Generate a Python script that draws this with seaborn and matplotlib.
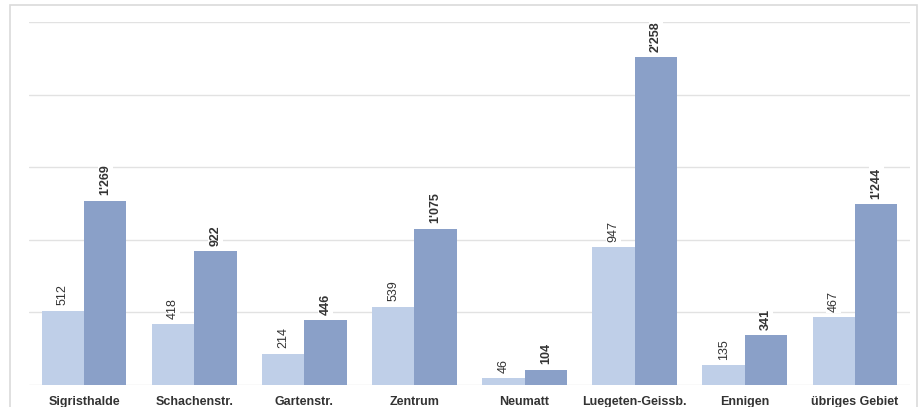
import matplotlib
matplotlib.use("Agg")
import matplotlib.pyplot as plt
from matplotlib.patches import Rectangle
import seaborn as sns
import pandas as pd

categories = ["Sigristhalde", "Schachenstr.", "Gartenstr.", "Zentrum", "Neumatt",
              "Luegeten-Geissb.", "Ennigen", "übriges Gebiet"]
series_names = ["A", "B"]
values_a = [512, 418, 214, 539, 46, 947, 135, 467]
values_b = [1269, 922, 446, 1075, 104, 2258, 341, 1244]

df = pd.DataFrame({
    "Gebiet": categories * 2,
    "Serie": [series_names[0]] * len(categories) + [series_names[1]] * len(categories),
    "Wert": values_a + values_b,
})

sns.set_theme(style="white")
plt.rcParams["font.family"] = ["Liberation Sans", "DejaVu Sans"]

fig = plt.figure(figsize=(9.2, 4.07), dpi=100)
ax = fig.add_axes([29 / 920, 22 / 407, 881 / 920, 363 / 407])

colors = ["#BFCFE8", "#8AA0C8"]
sns.barplot(data=df, x="Gebiet", y="Wert", hue="Serie", palette=colors,
            saturation=1, width=0.77, gap=0, dodge=True, ax=ax, legend=False,
            edgecolor="none", linewidth=0, zorder=2)

ax.set_ylim(0, 2500)
ax.set_xlim(-0.5, len(categories) - 0.5)
ax.set_yticks([0, 500, 1000, 1500, 2000, 2500])
ax.yaxis.grid(True, color="#E2E2E2", linewidth=1.0, zorder=0)
ax.set_axisbelow(True)
ax.tick_params(axis="y", left=False, labelleft=False)
ax.tick_params(axis="x", bottom=False, pad=2)
for lbl in ax.get_xticklabels():
    lbl.set_fontweight("bold")
    lbl.set_fontsize(9)
    lbl.set_color("#333333")
ax.set_xlabel("")
ax.set_ylabel("")
for s in ax.spines.values():
    s.set_visible(False)


def fmt(v):
    return f"{v:,}".replace(",", "'")


for i, cont in enumerate(ax.containers):
    labels = [fmt(int(round(b.get_height()))) for b in cont]
    texts = ax.bar_label(cont, labels=labels, rotation=90, padding=4,
                         fontsize=9, color="#333333",
                         fontweight="bold" if i == 1 else "normal")
    for t in texts:
        t.set_bbox(dict(facecolor="white", edgecolor="none", pad=1.0))
        t.set_zorder(3)

# light frame around the chart area
fig.patches.append(Rectangle((10 / 920, -0.05), 907 / 920, 1.05 - 5 / 407,
                             transform=fig.transFigure, fill=False,
                             edgecolor="#DADADA", linewidth=1.2))

fig.savefig("out.png", dpi=100, facecolor="white")
